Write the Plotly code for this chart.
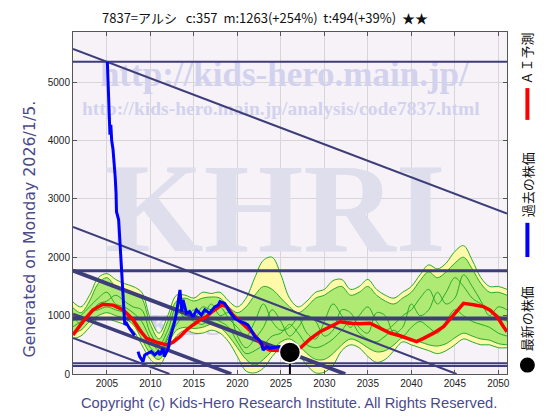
import plotly.graph_objects as go

# ---------------- data ----------------
years = list(range(2001, 2052))

# AI forecast scenario envelopes (yellow = outer, green = inner) and scenario lines
yellow_upper = [1250, 1150, 1350, 1650, 1720, 1620, 1550, 1500, 1400, 950, 700, 1000, 1350, 1350, 1300, 1400, 1380,
                1400, 1250, 1150, 1300, 1650, 1950, 2000, 1700, 1300, 1150, 1250, 1400, 1450, 1600, 1620, 1450, 1500,
                1620, 1450, 1350, 1300, 1400, 1500, 1700, 1870, 1800, 1900, 2100, 2200, 1950, 1650, 1500, 1500, 1450]
yellow_lower = [600, 650, 800, 950, 950, 900, 850, 750, 500, 250, 150, 400, 650, 750, 700, 700, 750, 700, 550, 300,
                50, 20, 100, 300, 450, 500, 350, 150, 20, 30, 150, 400, 500, 450, 300, 200, 250, 400, 550, 500, 450,
                400, 350, 400, 500, 600, 550, 500, 500, 450, 450]
green_upper = [1150, 1050, 1250, 1550, 1650, 1500, 1450, 1400, 1300, 850, 600, 900, 1250, 1300, 1250, 1300, 1320,
               1300, 1150, 1050, 1150, 1350, 1500, 1450, 1300, 1150, 1050, 1150, 1300, 1350, 1450, 1500, 1350, 1400,
               1500, 1350, 1250, 1200, 1300, 1400, 1600, 1750, 1650, 1750, 1900, 2000, 1800, 1550, 1400, 1400, 1350]
green_lower = [700, 750, 900, 1000, 1050, 1000, 950, 850, 600, 350, 250, 500, 750, 800, 780, 800, 850, 800, 650, 450,
               250, 150, 250, 400, 550, 600, 500, 350, 250, 250, 350, 500, 600, 550, 450, 380, 400, 500, 620, 580,
               550, 500, 480, 520, 620, 700, 650, 600, 580, 520, 500]
scenario_1 = [900, 1000, 1150, 1300, 1400, 1200, 1150, 1050, 900, 600, 400, 650, 1000, 1100, 950, 1150, 1100, 1150,
              950, 800, 650, 900, 1200, 900, 750, 800, 950, 700, 600, 900, 1200, 1000, 800, 1000, 1150, 900, 750, 850,
              1000, 1100, 1300, 1450, 1200, 1400, 1650, 1500, 1300, 1200, 1100, 1000, 900]
scenario_2 = [1050, 850, 1000, 1200, 1250, 1350, 1250, 1150, 1100, 700, 500, 750, 1150, 950, 1100, 1000, 1200, 1000,
              1050, 650, 450, 600, 800, 1100, 900, 650, 800, 1000, 900, 650, 750, 1100, 1050, 800, 700, 1050, 1000,
              700, 800, 1200, 1000, 1100, 1400, 1200, 1300, 1700, 1500, 1250, 1000, 1150, 1100]
scenario_3 = [800, 900, 1050, 1100, 1150, 1100, 1050, 950, 750, 450, 350, 600, 850, 1000, 900, 850, 950, 900, 800,
              550, 350, 400, 500, 650, 700, 850, 700, 500, 450, 500, 600, 750, 900, 700, 600, 550, 650, 750, 650, 800,
              900, 800, 700, 900, 1100, 1000, 900, 850, 800, 700, 650]

# AI prediction (red)
ai_x = [2001.1, 2002.25, 2003.4, 2004.55, 2005.7, 2006.85, 2008.0, 2008.75, 2009.55, 2010.7, 2011.85, 2012.6,
        2013.4, 2014.15, 2014.9, 2015.7, 2016.45, 2017.2, 2018.2, 2018.75, 2019.5, 2020.3, 2021.05, 2021.8, 2022.4,
        2022.95, 2023.7, 2024.5, 2025.3, 2026.2, 2027.2, 2028.35, 2029.5, 2030.65, 2031.8, 2032.95, 2034.1, 2035.25,
        2036.4, 2037.55, 2038.7, 2039.85, 2040.6, 2041.4, 2042.55, 2043.7, 2044.85, 2046.0, 2047.15, 2048.3, 2049.05,
        2049.85, 2050.6, 2051.0]
ai_y = [670, 900, 1100, 1195, 1180, 1100, 930, 755, 610, 545, 500, 545, 640, 755, 840, 925, 985, 1080, 1185, 1155,
        1010, 900, 800, 700, 585, 470, 410, 410, 400, 390, 440, 600, 725, 810, 895, 870, 860, 870, 785, 700, 655, 585,
        555, 610, 700, 810, 1010, 1210, 1185, 1155, 1095, 985, 810, 725]

# past stock price (blue); None = gap in data
past_x = [2005.05, 2005.15, 2005.3, 2005.35, 2005.45, 2005.55, 2005.7, 2005.85, 2005.95, 2006.05, 2006.1, 2006.35,
          2006.55, 2006.75, 2006.95, 2007.05, 2007.25, 2007.6, 2008.2, None,
          2008.58, 2008.77, 2009.15, 2009.35, 2009.7, 2010.1, 2010.5, 2010.9, 2011.1, 2011.45, 2011.6, 2012.05,
          2012.25, 2012.8, 2013.1, 2013.4, 2013.6, 2013.75, 2014.15, 2014.5, 2014.9, 2015.3, 2015.85, 2016.25,
          2016.8, 2017.4, 2017.8, 2018.0, 2018.55, 2019.1, 2019.7, 2020.3, 2020.85, 2021.2, 2021.6, 2022.0, 2022.4,
          2022.8, 2022.95, 2023.35, 2023.7, 2024.3, 2024.8, 2025.3, 2025.9]
past_y = [5350, 4800, 4350, 4100, 4270, 4000, 3850, 3600, 3380, 3100, 2780, 2640, 2150, 1550, 980, 850, 870, 780, 660,
          None,
          383, 297, 211, 326, 355, 383, 326, 383, 326, 440, 300, 440, 610, 900, 1150, 1440, 1070, 1270, 1040, 1070,
          980, 1100, 1010, 1100, 1040, 1150, 1180, 1240, 1210, 1070, 955, 900, 870, 840, 750, 640, 600, 520, 410,
          470, 440, 460, 470, 440, 370]

latest_year = 2026.04
latest_price = 370

# support / resistance levels (horizontal) and trend channel lines
h_levels = [5350, 1770, 950, 185, 135]
h_widths = [2, 3, 4, 2, 2]
trend_start_x = [2001.1, 2001.1, 2001.1, 2001.1, 2001.1]
trend_start_y = [5570, 2520, 1770, 1020, 620]
trend_end_x = [2051.0, 2045.2, 2032.4, 2019.3, 2012.2]
trend_end_y = [2750, 0, 0, 0, 0]
trend_widths = [2, 2, 4, 3.5, 2]

x_range = [2001.1, 2051.0]
y_range = [0, 5860]
x_ticks = [2005, 2010, 2015, 2020, 2025, 2030, 2035, 2040, 2045, 2050]

title_text = "7837=アルシ\u00a0\u00a0\u00a0c:357\u00a0\u00a0m:1263(+254%)\u00a0\u00a0t:494(+39%)\u00a0\u00a0★★"

# ---------------- figure ----------------
LINE_C = "#3d3d7a"
GREEN = "#2aa82a"
fig = go.Figure()

# watermarks (drawn first so they sit below the data)
fig.add_trace(go.Scatter(x=[2025.4], y=[5090], mode="text", text=["<b>http://kids-hero.main.jp/</b>"],
                         textfont=dict(family="Liberation Serif", size=35, color="#d2d2ee"),
                         hoverinfo="skip", showlegend=False))
fig.add_trace(go.Scatter(x=[2025.0], y=[4526], mode="text",
                         text=["<b>http://kids-hero.main.jp/analysis/code7837.html</b>"],
                         textfont=dict(family="Liberation Serif", size=19.5, color="#d2d2ee"),
                         hoverinfo="skip", showlegend=False))
fig.add_trace(go.Scatter(x=[2024.3], y=[2650], mode="text", text=["<b>KHRI</b>"],
                         textfont=dict(family="Liberation Serif", size=128, color="#dedeec"),
                         hoverinfo="skip", showlegend=False))
fig.add_trace(go.Scatter(x=[2025.8], y=[800], mode="text", text=["<b>KIDS-HERO.main.jp</b>"],
                         textfont=dict(family="Liberation Serif", size=30, color="#d2d2ea"),
                         hoverinfo="skip", showlegend=False))

# scenario band
fig.add_trace(go.Scatter(x=years, y=yellow_lower, mode="lines", line=dict(color=GREEN, width=1, shape="spline"),
                         hoverinfo="skip", showlegend=False))
fig.add_trace(go.Scatter(x=years, y=yellow_upper, mode="lines", line=dict(color=GREEN, width=1, shape="spline"),
                         fill="tonexty", fillcolor="rgba(255,250,165,0.95)", hoverinfo="skip", showlegend=False))
fig.add_trace(go.Scatter(x=years, y=green_lower, mode="lines", line=dict(color=GREEN, width=1, shape="spline"),
                         hoverinfo="skip", showlegend=False))
fig.add_trace(go.Scatter(x=years, y=green_upper, mode="lines", line=dict(color=GREEN, width=1, shape="spline"),
                         fill="tonexty", fillcolor="rgba(165,232,110,0.9)", hoverinfo="skip", showlegend=False))
for s in (scenario_1, scenario_2, scenario_3):
    fig.add_trace(go.Scatter(x=years, y=s, mode="lines", line=dict(color=GREEN, width=1, shape="spline"),
                             hoverinfo="skip", showlegend=False))

# horizontal levels
for lv, w in zip(h_levels, h_widths):
    fig.add_trace(go.Scatter(x=x_range, y=[lv, lv], mode="lines", line=dict(color=LINE_C, width=w),
                             hoverinfo="skip", showlegend=False))
# trend channel
for x0, y0, x1, y1, w in zip(trend_start_x, trend_start_y, trend_end_x, trend_end_y, trend_widths):
    fig.add_trace(go.Scatter(x=[x0, x1], y=[y0, y1], mode="lines", line=dict(color=LINE_C, width=w),
                             hoverinfo="skip", showlegend=False))

# AI prediction
fig.add_trace(go.Scatter(x=ai_x, y=ai_y, mode="lines", line=dict(color="#ff0000", width=3.5),
                         showlegend=False))
# past price
fig.add_trace(go.Scatter(x=past_x, y=past_y, mode="lines", line=dict(color="#0000ff", width=3),
                         connectgaps=False, showlegend=False))
# latest marker
fig.add_trace(go.Scatter(x=[latest_year, latest_year], y=[0, latest_price], mode="lines",
                         line=dict(color="black", width=2), hoverinfo="skip", showlegend=False))
fig.add_trace(go.Scatter(x=[latest_year], y=[latest_price], mode="markers",
                         marker=dict(size=21, color="black", line=dict(color="white", width=1.5)),
                         showlegend=False))

axis_common = dict(showline=True, linecolor="#555", linewidth=1, mirror="ticks", ticks="inside", ticklen=4,
                   tickcolor="#555", showgrid=True, gridcolor="#d6d6d6", gridwidth=1, zeroline=False,
                   tickfont=dict(family="Liberation Sans", size=10, color="#222"))
fig.update_layout(
    width=560, height=420,
    margin=dict(l=73, r=53, t=32, b=46),
    paper_bgcolor="white", plot_bgcolor="#f7f2f8",
    xaxis=dict(range=x_range, tickvals=x_ticks, **axis_common),
    yaxis=dict(range=y_range, dtick=1000, **axis_common),
    showlegend=False,
)

# texts
annotations = [
    dict(text=title_text, x=0.443, y=1.041, xref="paper", yref="paper", showarrow=False,
         font=dict(family="Noto Sans CJK JP", size=13, color="#111"), xanchor="center", yanchor="middle"),
    dict(text="Generated on Monday 2026/1/5.", x=-0.1, y=0.424, xref="paper", yref="paper", showarrow=False,
         textangle=-90, font=dict(family="DejaVu Sans", size=15.8, color="#4a4a8c"), xanchor="center",
         yanchor="middle"),
    dict(text="Copyright (c) Kids-Hero Research Institute. All Rights Reserved.", x=0.498, y=-0.085,
         xref="paper", yref="paper", showarrow=False,
         font=dict(family="Liberation Sans", size=14.7, color="#4a4a8c"), xanchor="center", yanchor="middle"),
    dict(text="ＡＩ予測", x=1.047, y=0.924, xref="paper", yref="paper", showarrow=False, textangle=-90,
         font=dict(family="Noto Sans CJK JP", size=13, color="#111"), xanchor="center", yanchor="middle"),
    dict(text="過去の株価", x=1.047, y=0.553, xref="paper", yref="paper", showarrow=False, textangle=-90,
         font=dict(family="Noto Sans CJK JP", size=13, color="#111"), xanchor="center", yanchor="middle"),
    dict(text="最新の株価", x=1.047, y=0.161, xref="paper", yref="paper", showarrow=False, textangle=-90,
         font=dict(family="Noto Sans CJK JP", size=13, color="#111"), xanchor="center", yanchor="middle"),
]
fig.update_layout(annotations=annotations)

shapes = [
    dict(type="line", xref="paper", yref="paper", x0=1.047, x1=1.047, y0=0.743, y1=0.836,
         line=dict(color="#ff0000", width=4)),
    dict(type="line", xref="paper", yref="paper", x0=1.047, x1=1.047, y0=0.342, y1=0.442,
         line=dict(color="#0000ff", width=4)),
    dict(type="circle", xref="paper", yref="paper", xsizemode="pixel", ysizemode="pixel",
         xanchor=1.047, yanchor=0.026, x0=-7.5, x1=7.5, y0=-7.5, y1=7.5,
         fillcolor="black", line=dict(color="black", width=0)),
]
fig.update_layout(shapes=shapes)

fig.write_html("out.html", config={"displayModeBar": False},
               post_script="document.body.style.margin='0';")
